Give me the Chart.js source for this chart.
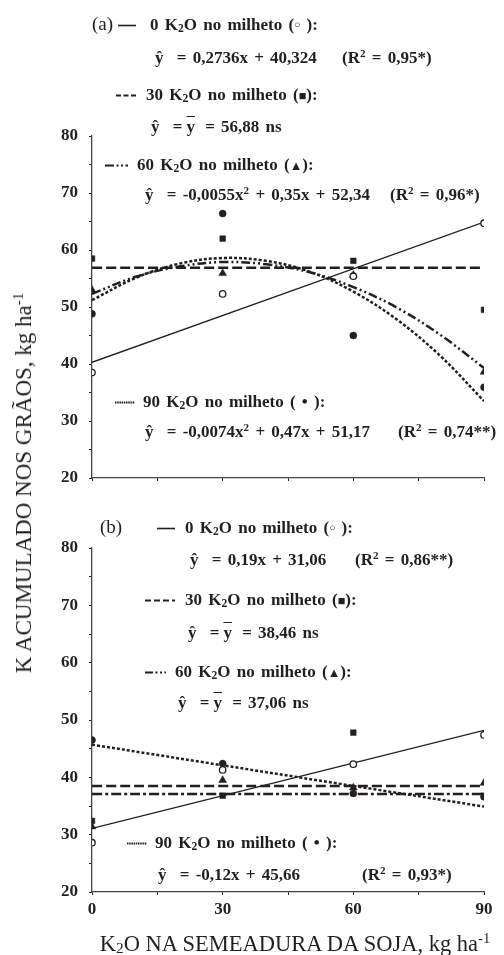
<!DOCTYPE html>
<html><head><meta charset="utf-8">
<script src="https://cdn.jsdelivr.net/npm/chart.js@4"></script>
<style>
html,body{margin:0;padding:0;background:#fff;}
#wrap{position:relative;width:504px;height:955px;overflow:hidden;font-family:"Liberation Serif","Times New Roman",serif;color:#231f20;}
canvas{position:absolute;left:0;}
.t{position:absolute;white-space:nowrap;font-weight:bold;font-size:17px;line-height:20px;z-index:2;word-spacing:2px;}
.n{font-weight:normal;font-size:19px;}
.h{display:inline-block;margin-right:7px;}
sub{font-size:0.68em;vertical-align:-0.15em;line-height:0;}
sup{font-size:0.65em;vertical-align:0.55em;line-height:0;}
.ov{text-decoration:overline;display:inline-block;margin:0 4px;}
.sm{font-size:0.6em;vertical-align:0.15em;}
.sq{font-size:0.75em;}
svg.s{position:absolute;z-index:2;overflow:visible;}
#ytitle{position:absolute;left:24px;top:483px;transform:translate(-50%,-50%) rotate(-90deg);white-space:nowrap;font-size:23px;z-index:2;}
#xtitle{position:absolute;left:295px;top:944px;transform:translate(-50%,-50%);white-space:nowrap;font-size:22.5px;z-index:2;}
</style></head>
<body><div id="wrap">
<canvas id="ca" width="504" height="500" style="top:0;width:504px;height:500px"></canvas>
<canvas id="cb" width="504" height="455" style="top:500px;width:504px;height:455px"></canvas>

<!-- panel (a) texts -->
<div class="t n" style="left:92px;top:14px">(a)</div>
<svg class="s" style="left:118px;top:25px" width="18" height="2"><line x1="0" y1="0.5" x2="18" y2="0.5" stroke="#231f20" stroke-width="1.6"/></svg>
<div class="t" style="left:150px;top:15px">0 K<sub>2</sub>O no milheto (<span class="sm">○</span> ):</div>
<div class="t" style="left:155px;top:48px"><span class="h">ŷ</span> = 0,2736x + 40,324</div>
<div class="t" style="left:342px;top:48px">(R<sup>2</sup> = 0,95*)</div>
<svg class="s" style="left:116px;top:95px" width="20" height="2"><line x1="0" y1="0.5" x2="20" y2="0.5" stroke="#231f20" stroke-width="2.2" stroke-dasharray="5,2.5"/></svg>
<div class="t" style="left:146px;top:85px">30 K<sub>2</sub>O no milheto (<span class="sq">■</span>):</div>
<div class="t" style="left:151px;top:117px"><span class="h">ŷ</span> =<span class="ov">y</span> = 56,88 ns</div>
<svg class="s" style="left:105px;top:165px" width="23" height="2"><line x1="0" y1="0.5" x2="23" y2="0.5" stroke="#231f20" stroke-width="2.2" stroke-dasharray="9,2.5,2,2.5,2,2.5"/></svg>
<div class="t" style="left:137px;top:155px">60 K<sub>2</sub>O no milheto (<span class="sq">▲</span>):</div>
<div class="t" style="left:145px;top:185px"><span class="h">ŷ</span> = -0,0055x<sup>2</sup> + 0,35x + 52,34</div>
<div class="t" style="left:390px;top:185px">(R<sup>2</sup> = 0,96*)</div>
<svg class="s" style="left:115px;top:402px" width="20" height="2"><line x1="0" y1="0.5" x2="20" y2="0.5" stroke="#231f20" stroke-width="2.2" stroke-dasharray="1.5,0.7"/></svg>
<div class="t" style="left:143px;top:392px">90 K<sub>2</sub>O no milheto ( • ):</div>
<div class="t" style="left:145px;top:422px"><span class="h">ŷ</span> = -0,0074x<sup>2</sup> + 0,47x + 51,17</div>
<div class="t" style="left:398px;top:422px">(R<sup>2</sup> = 0,74**)</div>

<!-- panel (b) texts -->
<div class="t n" style="left:100px;top:517px">(b)</div>
<svg class="s" style="left:157px;top:528px" width="18" height="2"><line x1="0" y1="0.5" x2="18" y2="0.5" stroke="#231f20" stroke-width="1.6"/></svg>
<div class="t" style="left:185px;top:518px">0 K<sub>2</sub>O no milheto (<span class="sm">○</span> ):</div>
<div class="t" style="left:190px;top:550px"><span class="h">ŷ</span> = 0,19x + 31,06</div>
<div class="t" style="left:355px;top:550px">(R<sup>2</sup> = 0,86**)</div>
<svg class="s" style="left:145px;top:600px" width="30" height="2"><line x1="0" y1="0.5" x2="30" y2="0.5" stroke="#231f20" stroke-width="2.2" stroke-dasharray="6,3"/></svg>
<div class="t" style="left:185px;top:590px">30 K<sub>2</sub>O no milheto (<span class="sq">■</span>):</div>
<div class="t" style="left:188px;top:623px"><span class="h">ŷ</span> =<span class="ov">y</span> = 38,46 ns</div>
<svg class="s" style="left:145px;top:672px" width="21" height="2"><line x1="0" y1="0.5" x2="21" y2="0.5" stroke="#231f20" stroke-width="2.2" stroke-dasharray="8,2.5,2,2.5,2,2.5"/></svg>
<div class="t" style="left:175px;top:662px">60 K<sub>2</sub>O no milheto (<span class="sq">▲</span>):</div>
<div class="t" style="left:178px;top:693px"><span class="h">ŷ</span> =<span class="ov">y</span> = 37,06 ns</div>
<svg class="s" style="left:127px;top:843px" width="20" height="2"><line x1="0" y1="0.5" x2="20" y2="0.5" stroke="#231f20" stroke-width="2.2" stroke-dasharray="1.5,0.7"/></svg>
<div class="t" style="left:155px;top:833px">90 K<sub>2</sub>O no milheto ( • ):</div>
<div class="t" style="left:158px;top:865px"><span class="h">ŷ</span> = -0,12x + 45,66</div>
<div class="t" style="left:362px;top:865px">(R<sup>2</sup> = 0,93*)</div>

<div id="ytitle">K ACUMULADO NOS GRÃOS, kg ha<sup>-1</sup></div>
<div id="xtitle">K<sub>2</sub>O NA SEMEADURA DA SOJA, kg ha<sup>-1</sup></div>
</div>
<script>
// ---- data ----
const doses = [0, 30, 60, 90];
const lineEnds = [0, 90];
const curveX = [0, 10, 20, 30, 40, 50, 60, 70, 80, 90];
const xTicks = [0, 30, 60, 90];
const yTicks = [20, 30, 40, 50, 60, 70, 80];

// panel (a) observed
const a_k0  = [38.5, 52.3, 55.4, 64.7];
const a_k30 = [58.5, 62.0, 58.1, 49.5];
const a_k60 = [53.0, 55.9, 55.6, 38.6];
const a_k90 = [48.8, 66.4, 45.0, 35.9];
// panel (a) fitted
const a_fit0  = [40.3, 64.9];
const a_fit30 = [56.9, 56.9];
const a_fit60 = [52.3, 55.3, 57.1, 57.9, 57.5, 56.1, 53.5, 49.9, 45.1, 39.3];
const a_fit90 = [51.2, 55.1, 57.6, 58.6, 58.1, 56.2, 52.7, 47.8, 41.4, 33.5];

// panel (b) observed
const b_k0  = [28.6, 41.3, 42.3, 47.4];
const b_k30 = [32.4, 36.8, 47.8, 36.8];
const b_k60 = [31.4, 39.5, 38.2, 39.0];
const b_k90 = [46.5, 42.4, 37.2, 36.6];
// panel (b) fitted
const b_fit0  = [31.1, 48.2];
const b_fit30 = [38.5, 38.5];
const b_fit60 = [37.1, 37.1];
const b_fit90 = [45.7, 34.9];

const INK = '#231f20';
const FONT = '"Liberation Serif","Times New Roman",serif';

function pts(xs, ys){ return xs.map((x,i)=>({x:x, y:ys[i]})); }
function scatterSet(ys, style, r, fill){
  return {data: pts(doses, ys), showLine:false, pointStyle:style, pointRadius:r,
    pointBackgroundColor: fill ? INK : '#fff', pointBorderColor: INK, pointBorderWidth: fill?0.5:1.3};
}
function lineSet(xs, ys, w, dash){
  return {data: pts(xs, ys), showLine:true, pointRadius:0, borderColor:INK, borderWidth:w,
    borderDash:dash, tension:0.35, fill:false};
}

function makeChart(id, datasets, padTop, xHeight, showX){
  return new Chart(document.getElementById(id), {
    type:'scatter',
    data:{datasets:datasets},
    options:{
      responsive:false, animation:false,
      layout:{padding:{top:padTop, right:20, left:0, bottom:0}},
      plugins:{legend:{display:false}, tooltip:{enabled:false}},
      scales:{
        x:{type:'linear', min:0, max:90,
          afterBuildTicks: s => { s.ticks = [0,15,30,45,60,75,90].map(v=>({value:v})); },
          afterFit: s => { s.height = xHeight; },
          ticks:{autoSkip:false, maxRotation:0, padding:4, color:INK,
            font:{family:FONT, size:17, weight:'bold'},
            callback: v => (showX && xTicks.includes(v)) ? String(v) : ''},
          grid:{drawOnChartArea:false, tickLength:3, color:INK, tickWidth:1},
          border:{color:'#444', width:1.3}},
        y:{type:'linear', min:20, max:80,
          afterBuildTicks: s => { const t=[]; for(let v=20; v<=80; v+=5) t.push({value:v}); s.ticks=t; },
          afterFit: s => { s.width = 92; },
          ticks:{autoSkip:false, padding:11, color:INK,
            font:{family:FONT, size:17, weight:'bold'},
            callback: v => yTicks.includes(v) ? String(v) : ''},
          grid:{drawOnChartArea:false, tickLength:3, color:INK, tickWidth:1},
          border:{color:'#444', width:1.3}}
      }
    }
  });
}

makeChart('ca', [
  scatterSet(a_k0, 'circle', 3.2, false),
  scatterSet(a_k30, 'rect', 4, true),
  scatterSet(a_k60, 'triangle', 4.5, true),
  scatterSet(a_k90, 'circle', 3.5, true),
  lineSet(lineEnds, a_fit0, 1.3, []),
  lineSet(lineEnds, a_fit30, 2.5, [10,4]),
  lineSet(curveX, a_fit60, 2.5, [9,3,2,3,2,3]),
  lineSet(curveX, a_fit90, 2.5, [3,2])
], 136, 22, false);

makeChart('cb', [
  scatterSet(b_k0, 'circle', 3.2, false),
  scatterSet(b_k30, 'rect', 4, true),
  scatterSet(b_k60, 'triangle', 4.5, true),
  scatterSet(b_k90, 'circle', 3.5, true),
  lineSet(lineEnds, b_fit0, 1.3, []),
  lineSet(lineEnds, b_fit30, 2.5, [10,4]),
  lineSet(lineEnds, b_fit60, 2.5, [10,3,3,3]),
  lineSet(lineEnds, b_fit90, 2.5, [3,2])
], 48, 63, true);
</script>
</body></html>
